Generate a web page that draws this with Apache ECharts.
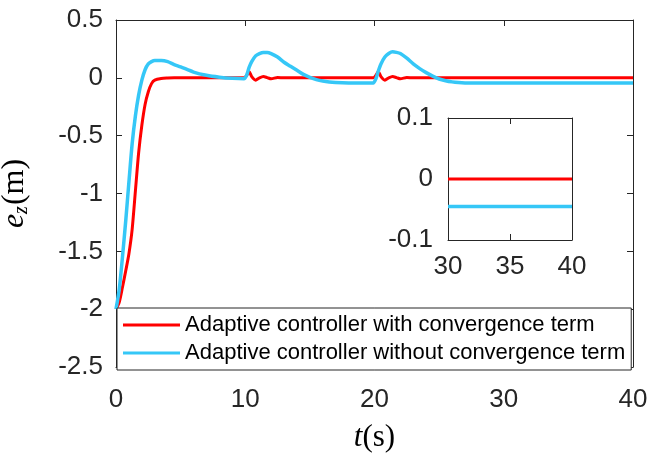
<!DOCTYPE html>
<html>
<head>
<meta charset="utf-8">
<script src="https://cdn.jsdelivr.net/npm/echarts@6/dist/echarts.min.js"></script>
<style>
  html, body { margin: 0; padding: 0; background: #fff; }
  #chart { width: 649px; height: 460px; }
</style>
</head>
<body>
<div id="chart"></div>
<script>
// time samples (s)
const time = [
  0, 0.25, 0.5, 0.75, 1, 1.25, 1.5, 1.75, 2, 2.25, 2.5, 2.75, 3,
  3.5, 4, 4.5, 5, 6, 7, 8, 9, 9.9,
  10.1, 10.3, 10.5, 10.8, 11.1, 11.4, 11.7, 12, 12.5,
  13, 13.5, 14, 14.5, 15, 15.5, 16, 16.5, 17, 18, 19, 19.9,
  20.1, 20.3, 20.5, 20.8, 21.1, 21.4, 21.7, 22, 22.5,
  23, 23.5, 24, 24.5, 25, 25.5, 26, 26.5, 27, 28,
  30, 32, 35, 38, 40
];
// e_z with convergence term (red)
const withTerm = [
  -2, -1.94, -1.81, -1.67, -1.52, -1.31, -0.98, -0.65, -0.41, -0.23, -0.12, -0.05, -0.02,
  -0.006, -0.002, 0, 0, 0, 0, 0, 0, 0,
  0.02, 0.055, 0.01, -0.02, 0, 0.012, 0.002, -0.008, 0.003,
  0, 0, 0, 0, 0, 0, 0, 0, 0, 0, 0, 0,
  0.02, 0.055, 0.01, -0.02, 0, 0.012, 0.002, -0.008, 0.003,
  0, 0, 0, 0, 0, 0, 0, 0, 0, 0,
  0, 0, 0, 0, 0
];
// e_z without convergence term (blue)
const withoutTerm = [
  -2, -1.83, -1.55, -1.24, -0.9, -0.57, -0.33, -0.15, -0.02, 0.07, 0.12, 0.14, 0.15,
  0.15, 0.14, 0.115, 0.095, 0.05, 0.022, 0.006, -0.004, -0.008,
  0.02, 0.09, 0.14, 0.19, 0.21, 0.22, 0.22, 0.21, 0.18,
  0.135, 0.1, 0.065, 0.03, 0.005, -0.015, -0.028, -0.036, -0.04, -0.044, -0.045, -0.045,
  -0.01, 0.06, 0.12, 0.18, 0.21, 0.225, 0.22, 0.21, 0.17,
  0.12, 0.08, 0.045, 0.015, -0.01, -0.025, -0.035, -0.041, -0.044, -0.045,
  -0.045, -0.045, -0.045, -0.045, -0.045
];
const seriesNames = [
  'Adaptive controller with convergence term',
  'Adaptive controller without convergence term'
];
const mainX = { min: 0, max: 40, interval: 10 };
const mainY = { min: -2.5, max: 0.5, interval: 0.5 };
const insetX = { min: 30, max: 40, interval: 5 };
const insetY = { min: -0.1, max: 0.1, interval: 0.1 };

const RED = '#ff0000';
const BLUE = '#35c7f7';
const AXIS = '#262626';
const SANS = '"Liberation Sans", Arial, sans-serif';
const SERIF = '"Liberation Serif", "DejaVu Serif", serif';

const pairs = (vals, from) =>
  time.map((t, i) => [t, vals[i]]).filter(p => from === undefined || p[0] >= from);

function frameAxis(extra) {
  return Object.assign({
    type: 'value',
    axisLine: { show: true, onZero: false, lineStyle: { color: AXIS, width: 1 } },
    axisTick: { show: true, inside: true, length: 6, lineStyle: { color: AXIS } },
    axisLabel: { show: false },
    splitLine: { show: false }
  }, extra);
}
const tickLabel = (margin) => ({
  show: true, margin: margin, color: AXIS, fontSize: 26, fontFamily: SANS
});

var myChart = echarts.init(document.getElementById('chart'));
myChart.setOption({
  animation: false,
  grid: [
    { left: 116, right: 16, top: 20, bottom: 93, containLabel: false, outerBoundsMode: 'none' },
    {
      left: 448, top: 118, width: 124, height: 122, zlevel: 1,
      containLabel: false, outerBoundsMode: 'none',
      show: true, backgroundColor: '#fff', borderWidth: 0
    }
  ],
  xAxis: [
    frameAxis(Object.assign({
      gridIndex: 0, position: 'bottom', axisLabel: tickLabel(20),
      name: '{i|t}{n|(s)}', nameLocation: 'middle', nameGap: 55,
      nameTextStyle: {
        color: '#000', fontFamily: SERIF, fontSize: 31,
        rich: {
          i: { fontStyle: 'italic', fontFamily: SERIF, fontSize: 31, color: '#000' },
          n: { fontFamily: SERIF, fontSize: 31, color: '#000' }
        }
      }
    }, mainX)),
    frameAxis(Object.assign({ gridIndex: 0, position: 'top' }, mainX)),
    frameAxis(Object.assign({ gridIndex: 1, position: 'bottom', zlevel: 1, axisLabel: tickLabel(14) }, insetX)),
    frameAxis(Object.assign({ gridIndex: 1, position: 'top', zlevel: 1 }, insetX))
  ],
  yAxis: [
    frameAxis(Object.assign({
      gridIndex: 0, position: 'left', axisLabel: tickLabel(13),
      name: '{i|e}{s|z}{n|(m)}', nameLocation: 'middle', nameGap: 84, nameRotate: 90,
      nameTextStyle: {
        color: '#000', fontFamily: SERIF, fontSize: 32,
        rich: {
          i: { fontStyle: 'italic', fontFamily: SERIF, fontSize: 32, color: '#000' },
          s: { fontStyle: 'italic', fontFamily: SERIF, fontSize: 20, color: '#000', padding: [14, 1, 0, 0] },
          n: { fontFamily: SERIF, fontSize: 32, color: '#000' }
        }
      }
    }, mainY)),
    frameAxis(Object.assign({ gridIndex: 0, position: 'right' }, mainY)),
    frameAxis(Object.assign({ gridIndex: 1, position: 'left', zlevel: 1, axisLabel: tickLabel(15) }, insetY)),
    frameAxis(Object.assign({ gridIndex: 1, position: 'right', zlevel: 1 }, insetY))
  ],
  legend: {
    zlevel: 1,
    data: seriesNames,
    orient: 'vertical',
    left: 117, top: 308,
    padding: [6, 6, 6, 6],
    itemGap: 6,
    itemWidth: 57, itemHeight: 3,
    icon: 'rect',
    backgroundColor: '#fff',
    borderColor: AXIS, borderWidth: 1, borderRadius: 0,
    selectedMode: false,
    textStyle: { fontSize: 22, lineHeight: 22, fontFamily: SANS, color: '#000' }
  },
  series: [
    {
      name: seriesNames[0], type: 'line', xAxisIndex: 0, yAxisIndex: 0,
      data: pairs(withTerm), showSymbol: false, symbol: 'none', smooth: 0.25,
      color: RED, lineStyle: { color: RED, width: 3 }
    },
    {
      name: seriesNames[1], type: 'line', xAxisIndex: 0, yAxisIndex: 0,
      data: pairs(withoutTerm), showSymbol: false, symbol: 'none', smooth: 0.25,
      color: BLUE, lineStyle: { color: BLUE, width: 3.5 }
    },
    {
      name: 'inset-red', type: 'line', xAxisIndex: 2, yAxisIndex: 2, zlevel: 1,
      data: pairs(withTerm, 30), showSymbol: false, symbol: 'none',
      color: RED, lineStyle: { color: RED, width: 3 }
    },
    {
      name: 'inset-blue', type: 'line', xAxisIndex: 2, yAxisIndex: 2, zlevel: 1,
      data: pairs(withoutTerm, 30), showSymbol: false, symbol: 'none',
      color: BLUE, lineStyle: { color: BLUE, width: 3.5 }
    }
  ]
});
</script>
</body>
</html>
